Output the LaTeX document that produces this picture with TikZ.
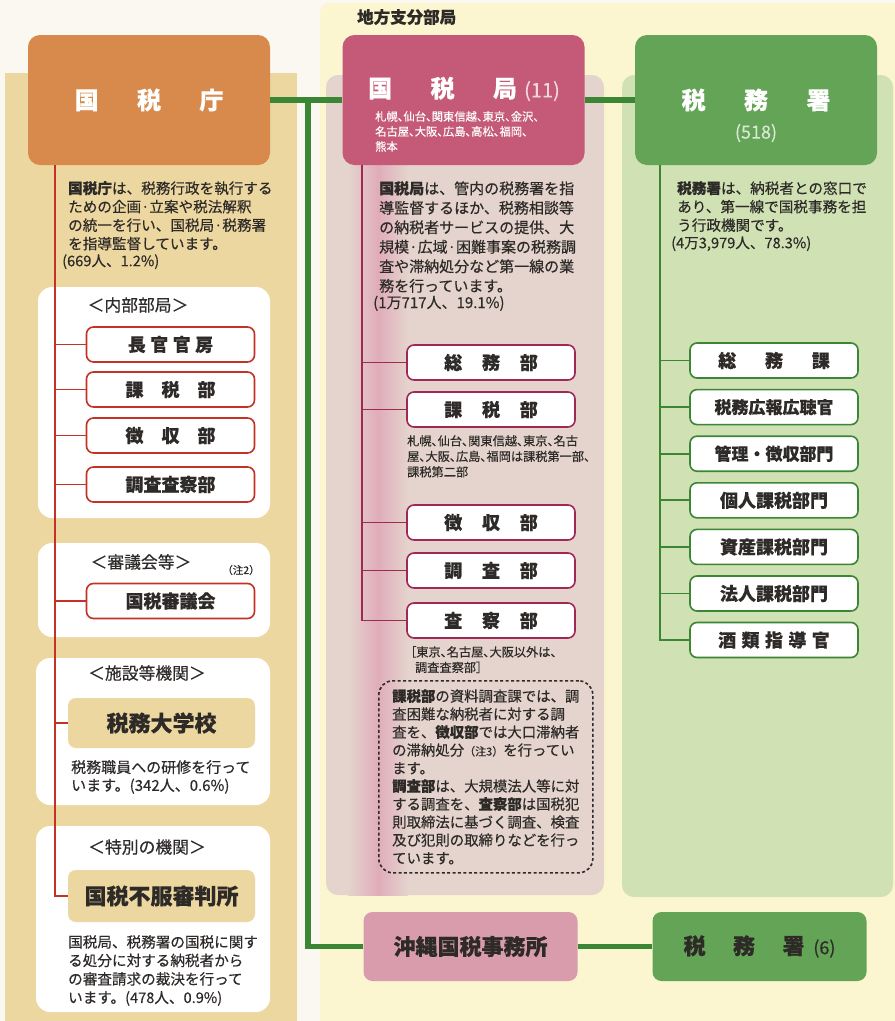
\documentclass[tikz,border=0pt]{standalone}
\usepackage{fontspec}
\setmainfont{Noto Sans CJK JP}[FakeBold=0.35]
\newfontfamily\propjp[RawFeature=+palt, FakeBold=0.3]{Noto Sans CJK JP}
\usetikzlibrary{positioning}

\definecolor{paper}{RGB}{250,248,240}
\definecolor{cream}{RGB}{251,246,208}
\definecolor{tan}{RGB}{237,215,160}
\definecolor{orangehead}{RGB}{215,138,76}
\definecolor{redline}{RGB}{196,50,38}
\definecolor{pinkpanel}{RGB}{228,212,205}
\definecolor{pinkstrip}{RGB}{224,172,186}
\definecolor{rosehead}{RGB}{196,90,120}
\definecolor{roseline}{RGB}{160,40,85}
\definecolor{rosebox}{RGB}{216,156,172}
\definecolor{greenpanel}{RGB}{208,225,180}
\definecolor{greenhead}{RGB}{100,164,86}
\definecolor{greenline}{RGB}{58,134,52}
\definecolor{ink}{RGB}{45,42,40}

\newcommand{\fsz}[2]{\fontsize{#1}{#2}\selectfont}

\tikzset{
  head/.style={rounded corners=12pt, minimum width=242pt, minimum height=130pt, inner sep=0pt},
  subbox/.style={draw, line width=1.6pt, fill=white, rounded corners=7pt, minimum width=168pt,
    minimum height=35pt, inner sep=0pt, text=ink, font=\fsz{18}{20}\bfseries},
  innerbox/.style={fill=tan, rounded corners=8pt, minimum width=187pt, inner sep=0pt,
    text=ink, font=\fsz{22}{22}\bfseries},
  lowbox/.style={rounded corners=9pt, minimum width=214pt, minimum height=69pt, inner sep=0pt,
    text=ink, font=\fsz{22}{22}\bfseries},
  body/.style={anchor=north west, align=left, inner sep=0pt, text=ink, font=\fsz{14.6}{18.5}},
  note/.style={anchor=north west, align=left, inner sep=0pt, text=ink, font=\propjp\fsz{12.2}{15.5}},
  title/.style={inner sep=0pt, text=ink, font=\fsz{16.8}{20}},
}

\begin{document}
\begin{tikzpicture}[x=1pt, y=-1pt]
\useasboundingbox (0,0) rectangle (895,1021);

% grounds
\fill[paper] (0,0) rectangle (895,1021);
\fill[cream, rounded corners=10pt] (320,3) rectangle (905,1030);
\fill[tan] (5,73) rectangle (297,1021);
\fill[white, rounded corners=14pt] (38,287) rectangle (270,518);
\fill[white, rounded corners=14pt] (38,543) rectangle (270,637);
\fill[white, rounded corners=14pt] (36,658) rectangle (270,805);
\fill[white, rounded corners=14pt] (36,826) rectangle (270,1012);
\fill[pinkpanel, rounded corners=12pt] (326,75) rectangle (604,895);
\shade[left color=pinkpanel, right color=pinkpanel, middle color=pinkstrip] (348,160) rectangle (408,895);
\fill[greenpanel, rounded corners=12pt] (622,75) rectangle (893,897);

% headers
\node[head, fill=orangehead, text=white, font=\fsz{24}{24}\bfseries] (kokuzeicho) at (149,100)
  {国\hspace{1.6em}税\hspace{1.6em}庁};
\node[head, fill=rosehead] (kokuzeikyoku) at (463.5,100) {};
\node[text=white, font=\fsz{24}{24}\bfseries] (kyokutitle) at (464,89)
  {国\hspace{1.6em}税\hspace{1.6em}局\hspace{0.3em}{\mdseries\fsz{20}{20}\color{white!75!rosehead}(11)}};
\node[anchor=north west, align=left, inner sep=0pt, text=white, font=\propjp\fsz{11.3}{15}] (kyokucity) at (375,111)
  {札幌、仙台、関東信越、東京、金沢、\\名古屋、大阪、広島、高松、福岡、\\熊本};
\node[head, fill=greenhead] (zeimusho) at (756,100) {};
\node[text=white, font=\fsz{24}{24}\bfseries] (shotitle) at (756,100) {税\hspace{1.6em}務\hspace{1.6em}署};
\node[text=white!75!greenhead, font=\fsz{18}{18}] (shocount) at (756,133) {(518)};
\node[anchor=west, inner sep=0pt, text=ink, font=\fsz{16.5}{16.5}\bfseries] (chiho) at (357,17) {地方支分部局};

% green trunk
\coordinate (trunk) at (308,97.5);
\draw[greenline, line width=5.5pt] (kokuzeicho.east) -- (kokuzeikyoku.west);
\draw[greenline, line width=5.5pt] (kokuzeikyoku.east) -- (zeimusho.west);

% descriptions
\node[body] (chodesc) at (68,181)
  {\textbf{国税庁}は、税務行政を執行する\\ための企画·立案や税法解釈\\の統一を行い、国税局·税務署\\を指導監督しています。\\[-1.5pt]\hspace*{-6pt}(669人、1.2\%)};
\node[body, font=\fsz{15}{19.5}] (kyokudesc) at (379,181)
  {\textbf{国税局}は、管内の税務署を指\\導監督するほか、税務相談等\\の納税者サービスの提供、大\\規模·広域·困難事案の税務調\\査や滞納処分など第一線の業\\務を行っています。\\[-3pt]\hspace*{-6pt}(1万717人、19.1\%)};
\node[body] (shodesc) at (677,181)
  {\textbf{税務署}は、納税者との窓口で\\あり、第一線で国税事務を担\\う行政機関です。\\[-1pt]\hspace*{-6pt}(4万3,979人、78.3\%)};

% left column
\node[title] (naibu) at (138,305) {＜内部部局＞};
\foreach \i/\y/\text in {1/344.5/長\hspace{0.25em}官\hspace{0.25em}官\hspace{0.25em}房,
    2/389.5/課\hspace{1em}税\hspace{1em}部, 3/435.5/徴\hspace{1em}収\hspace{1em}部, 4/484.5/調査査察部}
  \node[subbox, draw=redline] (cho\i) at (170.5,\y) {\text};
\node[title] (shingi) at (141,562) {＜審議会等＞};
\node[inner sep=0pt, text=ink, font=\fsz{10.5}{10}] (chu2) at (241,570) {（注2）};
\node[subbox, draw=redline] (shingikai) at (170.5,601) {国税審議会};
\node[title] (shisetsu) at (147,673) {＜施設等機関＞};
\node[innerbox, minimum height=50pt] (daigaku) at (161.5,723) {税務大学校};
\node[body, font=\fsz{15}{18}] (daigakudesc) at (71,760)
  {税務職員への研修を行って\\います。(342人、0.6\%)};
\node[title] (tokubetsu) at (147,847) {＜特別の機関＞};
\node[innerbox, minimum height=52pt] (fufuku) at (161.5,896) {国税不服審判所};
\node[body] (fufukudesc) at (68,935)
  {国税局、税務署の国税に関す\\る処分に対する納税者から\\の審査請求の裁決を行って\\います。(478人、0.9\%)};

\coordinate (spine) at (55,165);
\draw[redline, line width=1.4pt] (spine) |- (fufuku.west);
\foreach \n in {cho1, cho2, cho3, cho4, shingikai, daigaku}
  \draw[redline, line width=1.4pt] (spine |- \n.west) -- (\n.west);

% middle column
\foreach \i/\y/\text in {1/362.5/総\hspace{1.1em}務\hspace{1.1em}部, 2/409.5/課\hspace{1.1em}税\hspace{1.1em}部,
    3/522.5/徴\hspace{1.1em}収\hspace{1.1em}部, 4/570.5/調\hspace{1.1em}査\hspace{1.1em}部, 5/620.5/査\hspace{1.1em}察\hspace{1.1em}部}
  \node[subbox, draw=roseline] (kyoku\i) at (491,\y) {\text};
\node[note] (kazeinote) at (407,435)
  {札幌、仙台、関東信越、東京、名古\\屋、大阪、広島、福岡は課税第一部、\\課税第二部};
\node[note] (sasatsunote) at (410,646)
  {［東京、名古屋、大阪以外は、\\\hspace{0.4em}調査査察部］};
\node[draw=ink, line width=1.6pt, dash pattern=on 3pt off 2.4pt, rounded corners=14pt,
  anchor=north west, minimum width=214pt, minimum height=192pt, inner xsep=13pt,
  align=left, text=ink, font=\fsz{14.4}{18}] (bikou) at (378,680)
  {\textbf{課税部}の資料調査課では、調\\査困難な納税者に対する調\\査を、\textbf{徴収部}では大口滞納者\\の滞納処分{\fsz{11}{18}（注3）}を行ってい\\ます。\\\textbf{調査部}は、大規模法人等に対\\する調査を、\textbf{査察部}は国税犯\\則取締法に基づく調査、検査\\及び犯則の取締りなどを行っ\\ています。};

\coordinate (kspine) at (362,165);
\draw[roseline, line width=1.4pt] (kspine) |- (kyoku5.west);
\foreach \n in {kyoku1, kyoku2, kyoku3, kyoku4}
  \draw[roseline, line width=1.4pt] (kspine |- \n.west) -- (\n.west);

% right column
\foreach \i/\y/\text in {1/360.5/総\hspace{1.6em}務\hspace{1.6em}課, 2/407.1/{\fsz{17}{20}税務広報広聴官},
    3/453.7/{\fsz{17}{20}管理・徴収部門}, 4/500.3/個人課税部門, 5/546.9/資産課税部門,
    6/593.5/法人課税部門, 7/640/酒\hspace{0.3em}類\hspace{0.3em}指\hspace{0.3em}導\hspace{0.3em}官}
  \node[subbox, draw=greenline] (sho\i) at (774,\y) {\text};

\coordinate (zspine) at (660,165);
\draw[greenline, line width=1.8pt] (zspine) |- (sho7.west);
\foreach \n in {sho1, sho2, sho3, sho4, sho5, sho6}
  \draw[greenline, line width=1.8pt] (zspine |- \n.west) -- (\n.west);

% bottom row
\node[lowbox, fill=rosebox] (okinawa) at (470.5,946.5) {沖縄国税事務所};
\node[lowbox, fill=greenhead] (shozei) at (759.5,946.5)
  {税\hspace{1.25em}務\hspace{1.25em}署\hspace{0.4em}{\mdseries\fsz{18}{18}(6)}};
\draw[greenline, line width=5.5pt] (trunk) |- (okinawa.west);
\draw[greenline, line width=5.5pt] (okinawa.east) -- (shozei.west);

\end{tikzpicture}
\end{document}
